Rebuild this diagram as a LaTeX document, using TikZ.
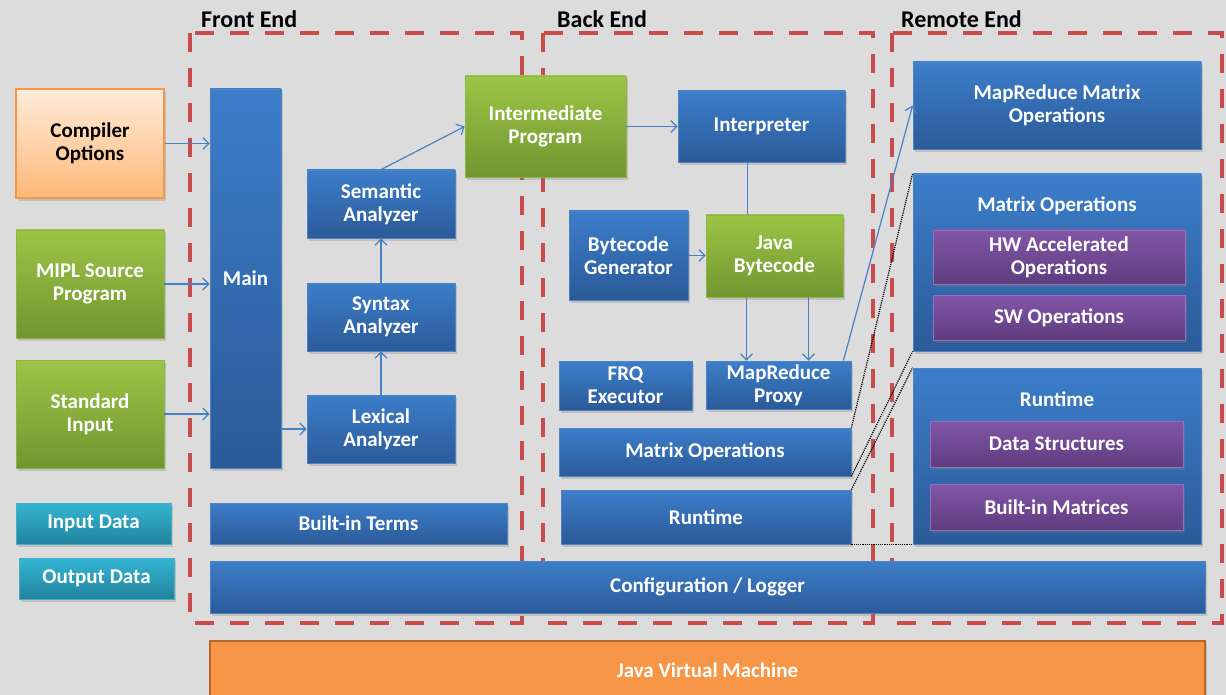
\documentclass[tikz,border=0pt]{standalone}
\usepackage{fontspec}
\setmainfont{Carlito}
\usetikzlibrary{shadows,arrows.meta}

\definecolor{paper}{RGB}{220,220,220}
\definecolor{grpred}{RGB}{200,76,76}
\definecolor{bluetop}{RGB}{60,126,202}
\definecolor{bluebot}{RGB}{43,90,152}
\definecolor{blueedge}{RGB}{78,132,196}
\definecolor{greentop}{RGB}{156,197,70}
\definecolor{greenbot}{RGB}{113,150,48}
\definecolor{greenedge}{RGB}{140,180,70}
\definecolor{purptop}{RGB}{130,86,168}
\definecolor{purpbot}{RGB}{94,60,126}
\definecolor{purpedge}{RGB}{150,110,185}
\definecolor{cyantop}{RGB}{52,182,212}
\definecolor{cyanbot}{RGB}{34,130,156}
\definecolor{cyanedge}{RGB}{70,175,200}
\definecolor{opttop}{RGB}{255,236,218}
\definecolor{optbot}{RGB}{255,184,120}
\definecolor{optedge}{RGB}{247,150,70}
\definecolor{jvmfill}{RGB}{247,150,70}
\definecolor{jvmedge}{RGB}{182,104,44}
\definecolor{arrblue}{RGB}{72,128,196}

\tikzset{
  base/.style={rectangle, inner sep=2pt, align=center, text=white,
    font=\bfseries\fontsize{21}{23}\selectfont,
    drop shadow={opacity=0.3, shadow xshift=2pt, shadow yshift=-3pt}},
  bluebox/.style={base, draw=blueedge, line width=0.8pt, top color=bluetop, bottom color=bluebot},
  greenbox/.style={base, draw=greenedge, line width=0.8pt, top color=greentop, bottom color=greenbot},
  purpbox/.style={base, draw=purpedge, line width=0.8pt, top color=purptop, bottom color=purpbot},
  cyanbox/.style={base, draw=cyanedge, line width=0.8pt, top color=cyantop, bottom color=cyanbot},
  optbox/.style={base, text=black, draw=optedge, line width=1.2pt, top color=opttop, bottom color=optbot},
  jvmbox/.style={base, draw=jvmedge, line width=1.5pt, fill=jvmfill},
  ttl/.style={anchor=base west, inner sep=0pt, font=\bfseries\fontsize{24}{26}\selectfont},
  sub/.style={inner sep=0pt, text=white, font=\bfseries\fontsize{21}{23}\selectfont},
  grp/.style={draw=grpred, line width=4pt, dash pattern=on 19pt off 16pt},
  arr/.style={draw=arrblue, line width=1.2pt, -{Straight Barb[length=6pt,width=12pt]}},
  wire/.style={draw=arrblue, line width=1.2pt},
  link/.style={densely dotted, line width=1.2pt}
}

\begin{document}
\begin{tikzpicture}[x=1pt,y=-1pt]
  \useasboundingbox (0,0) rectangle (1226,695);
  \fill[paper] (0,0) rectangle (1226,695);

  \draw[grp] (190,33) rectangle (522,623);
  \draw[grp] (543,33) rectangle (873,623);
  \draw[grp] (892,33) rectangle (1222,623);
  \node[ttl] (fe) at (201,28) {Front End};
  \node[ttl] (be) at (557,28) {Back End};
  \node[ttl] (re) at (901,28) {Remote End};

  \node[optbox, minimum width=148pt, minimum height=109pt] (copt) at (90,143.5) {Compiler\\Options};
  \node[greenbox, minimum width=148pt, minimum height=108pt] (mipl) at (90,284) {MIPL Source\\Program};
  \node[greenbox, minimum width=148pt, minimum height=108pt] (stdin) at (90,414) {Standard\\Input};
  \node[cyanbox, minimum width=155pt, minimum height=41pt] (indata) at (93.5,523.5) {Input Data};
  \node[cyanbox, minimum width=155pt, minimum height=41pt] (outdata) at (96.5,578.5) {Output Data};

  \node[bluebox, minimum width=71pt, minimum height=379pt] (main) at (245.5,278.5) {Main};
  \node[bluebox, minimum width=148pt, minimum height=68pt] (sem) at (381,204) {Semantic\\Analyzer};
  \node[bluebox, minimum width=148pt, minimum height=68pt] (syn) at (381,317) {Syntax\\Analyzer};
  \node[bluebox, minimum width=148pt, minimum height=68pt] (lex) at (381,429) {Lexical\\Analyzer};
  \node[bluebox, minimum width=297pt, minimum height=41pt] (bterms) at (358.5,523.5) {Built-in Terms};

  \node[greenbox, minimum width=161pt, minimum height=101pt] (improg) at (545.5,126.5) {Intermediate\\Program};
  \node[bluebox, minimum width=167pt, minimum height=71pt] (interp) at (761.5,126.5) {Interpreter};
  \node[bluebox, minimum width=119pt, minimum height=89pt] (bgen) at (628.5,255.5) {Bytecode\\Generator};
  \node[greenbox, minimum width=137pt, minimum height=82pt] (jbc) at (774.5,256) {Java\\Bytecode};
  \node[bluebox, minimum width=133pt, minimum height=49pt] (frq) at (625.5,385.5) {FRQ\\Executor};
  \node[bluebox, minimum width=145pt, minimum height=48pt] (mrp) at (778.5,385) {MapReduce\\Proxy};
  \node[bluebox, minimum width=292pt, minimum height=48pt] (bmat) at (705,452) {Matrix Operations};
  \node[bluebox, minimum width=290pt, minimum height=54pt] (brun) at (706,517) {Runtime};

  \node[bluebox, minimum width=995pt, minimum height=52pt] (conf) at (707.5,587) {Configuration / Logger};
  \node[jvmbox, minimum width=995pt, minimum height=58pt] (jvm) at (707.5,670) {Java Virtual Machine};

  \node[bluebox, minimum width=288pt, minimum height=87pt] (mrmat) at (1057,105.5) {MapReduce Matrix\\Operations};
  \node[bluebox, minimum width=288pt, minimum height=177pt] (rmat) at (1057,262.5) {};
  \node[sub] (rmatt) at (1057,206) {Matrix Operations};
  \node[purpbox, minimum width=252pt, minimum height=54pt] (hw) at (1059,257) {HW Accelerated\\Operations};
  \node[purpbox, minimum width=252pt, minimum height=45pt] (sw) at (1059,317.5) {SW Operations};
  \node[bluebox, minimum width=288pt, minimum height=176pt] (rrun) at (1057,456) {};
  \node[sub] (rrunt) at (1057,399) {Runtime};
  \node[purpbox, minimum width=253pt, minimum height=46pt] (ds) at (1056.5,444) {Data Structures};
  \node[purpbox, minimum width=253pt, minimum height=46pt] (bim) at (1056.5,507) {Built-in Matrices};

  \draw[arr] (copt.east) -- (copt.east -| main.west);
  \draw[arr] (mipl.east) -- (mipl.east -| main.west);
  \draw[arr] (stdin.east) -- (stdin.east -| main.west);
  \draw[arr] (main.east |- lex.west) -- (lex.west);
  \draw[arr] (lex) -- (syn);
  \draw[arr] (syn) -- (sem);
  \draw[arr] (sem.north) -- (improg.west);
  \draw[arr] (improg.east) -- (interp.west);
  \coordinate (ij) at ([xshift=-14pt]interp.south);
  \draw[wire] (ij) -- (ij |- jbc.north);
  \draw[arr] (bgen.east) -- (bgen.east -| jbc.west);
  \coordinate (ja) at ([xshift=-28pt]jbc.south);
  \coordinate (jb) at ([xshift=34pt]jbc.south);
  \draw[arr] (ja) -- (ja |- mrp.north);
  \draw[arr] (jb) -- (jb |- mrp.north);
  \coordinate (mq) at ([xshift=-8pt]mrp.north east);
  \draw[arr] (mq) -- (mrmat.west);

  \draw[link] (bmat.north east) -- (rmat.north west);
  \draw[link] (bmat.south east) -- (rmat.south west);
  \draw[link] (brun.north east) -- (rrun.north west);
  \draw[link] (brun.south east) -- (rrun.south west);
\end{tikzpicture}
\end{document}
